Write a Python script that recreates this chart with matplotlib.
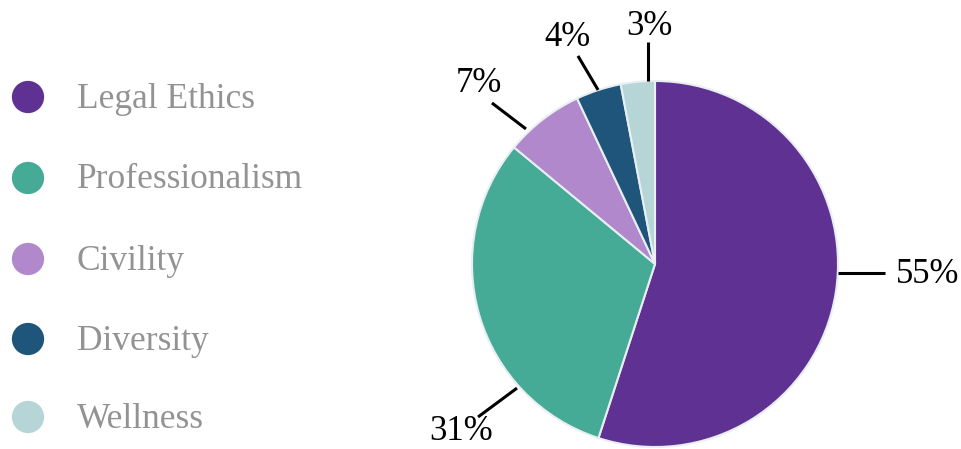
import numpy as np
import matplotlib
matplotlib.use("Agg")
import matplotlib.pyplot as plt

plt.rcParams['font.family'] = ['Liberation Serif', 'DejaVu Serif']

categories = ['Legal Ethics', 'Professionalism', 'Civility', 'Diversity', 'Wellness']
shares = [55, 31, 7, 4, 3]
labels = ['55%', '31%', '7%', '4%', '3%']
colors = ['#5e3192', '#45aa96', '#b088cb', '#1f557a', '#b5d5d6']

# leader lines and label spots, in units of the pie radius
line_start = [(1.0, -0.049), (-0.754, -0.678), (-0.705, 0.738), (-0.311, 0.951), (-0.038, 1.0)]
line_end = [(1.257, -0.049), (-0.967, -0.836), (-0.891, 0.880), (-0.421, 1.137), (-0.038, 1.213)]
text_pos = [(1.49, -0.06), (-1.06, -0.915), (-0.96, 0.985), (-0.48, 1.235), (-0.03, 1.30)]

W, H = 961, 449
fig = plt.figure(figsize=(W / 100, H / 100), dpi=100)
ax = fig.add_axes([0, 0, 1, 1])

cx, cy, r = 655, 185, 183
ax.pie(shares, colors=colors, startangle=90, counterclock=False,
       center=(cx, cy), radius=r, frame=True,
       wedgeprops=dict(edgecolor='#e8eef2', linewidth=1.5))
ax.set_xlim(0, W)
ax.set_ylim(0, H)
ax.set_aspect('equal')
ax.axis('off')

for (x0, y0), (x1, y1), (tx, ty), lab in zip(line_start, line_end, text_pos, labels):
    ax.plot([cx + x0 * r, cx + x1 * r], [cy + y0 * r, cy + y1 * r], color='black', lw=2.2,
            solid_capstyle='butt')
    ax.text(cx + tx * r, cy + ty * r, lab, fontsize=25, ha='center', va='center', color='black')

# legend
leg_y = [352, 271, 190, 110, 32]
for y, c, name in zip(leg_y, colors, categories):
    ax.scatter([28], [y], s=540, color=c, edgecolors='none')
    ax.text(77, y - 2, name, fontsize=25.5, color='#939393', ha='left', va='center')

fig.savefig('out.png', dpi=100)
